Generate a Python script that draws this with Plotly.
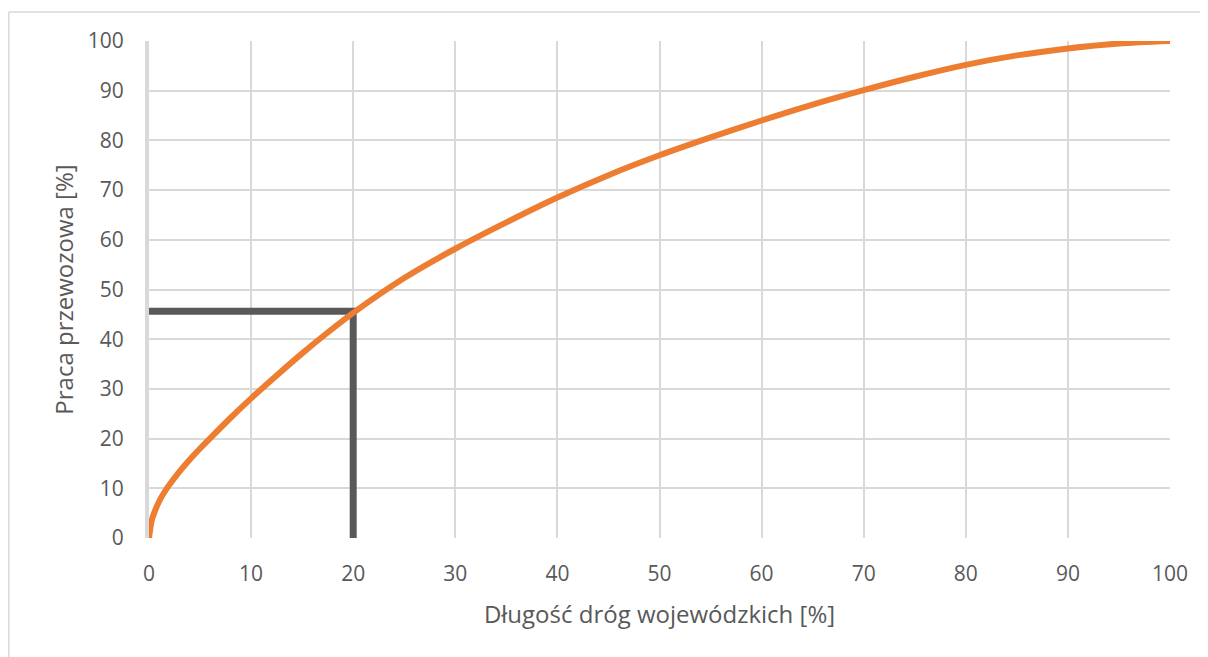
import plotly.graph_objects as go

# Data
road_length_pct = [0, 0.25, 0.5, 1, 1.5, 2, 3, 4, 5, 6, 8, 10, 12.5, 15, 17.5, 20, 25, 30, 35, 40,
                   45, 50, 55, 60, 65, 70, 75, 80, 85, 90, 95, 100]
transport_work_pct = [0, 3.4, 5.0, 7.4, 9.2, 10.7, 13.4, 15.8, 18.0, 20.1, 24.2, 28.1, 32.7, 37.15,
                      41.35, 45.3, 52.3, 58.2, 63.5, 68.5, 73.0, 77.0, 80.6, 84.0, 87.2, 90.1,
                      92.8, 95.2, 97.1, 98.5, 99.5, 100]

marker_x = [0, 20, 20]
marker_y = [45.6, 45.6, 0]

tick_vals = [0, 10, 20, 30, 40, 50, 60, 70, 80, 90, 100]
x_title = "Długość dróg wojewódzkich [%]"
y_title = "Praca przewozowa [%]"

FONT = "Open Sans"
TXT = "#595959"
GRID = "#d9d9d9"

fig = go.Figure()
fig.add_trace(go.Scatter(x=marker_x, y=marker_y, mode="lines",
                         line=dict(color="#595959", width=7), hoverinfo="skip",
                         showlegend=False))
fig.add_trace(go.Scatter(x=road_length_pct, y=transport_work_pct, mode="lines",
                         line=dict(color="#ED7D31", width=6, shape="spline", smoothing=0.8),
                         showlegend=False))

W, H = 1200, 649
L, R, T, B = 141, 38, 33, 119
pw, ph = W - L - R, H - T - B

# outer chart border: only the left and top edges are visible in the frame
border_left = (0.75 - L) / pw
border_top = (H - B - 4) / ph
fig.add_shape(type="line", xref="paper", yref="paper",
              x0=border_left, x1=border_left, y0=(-B - 10) / ph, y1=border_top,
              line=dict(color=GRID, width=1.5), layer="below")
fig.add_shape(type="line", xref="paper", yref="paper",
              x0=border_left, x1=(W + 10 - L) / pw, y0=border_top, y1=border_top,
              line=dict(color=GRID, width=1.5), layer="below")

fig.update_layout(
    width=W, height=H,
    margin=dict(l=L, r=R, t=T, b=B),
    paper_bgcolor="white", plot_bgcolor="white",
    font=dict(family=FONT, size=21, color=TXT),
    xaxis=dict(range=[0, 100], tickvals=tick_vals, showgrid=True, gridcolor=GRID, gridwidth=1.5,
               zeroline=False, showline=False, ticks="outside", ticklen=17,
               tickcolor="rgba(0,0,0,0)", tickfont=dict(size=21, color=TXT),
               title=dict(text=x_title, font=dict(size=24, color=TXT), standoff=19)),
    yaxis=dict(range=[0, 100], tickvals=tick_vals, showgrid=True, gridcolor=GRID, gridwidth=1.5,
               zeroline=False, showline=True, linecolor=GRID, linewidth=4, layer="below traces",
               ticks="outside", ticklen=17, tickcolor="rgba(0,0,0,0)",
               tickfont=dict(size=21, color=TXT),
               title=dict(text=y_title, font=dict(size=24, color=TXT), standoff=8)),
)

fig.write_html("out.html")
